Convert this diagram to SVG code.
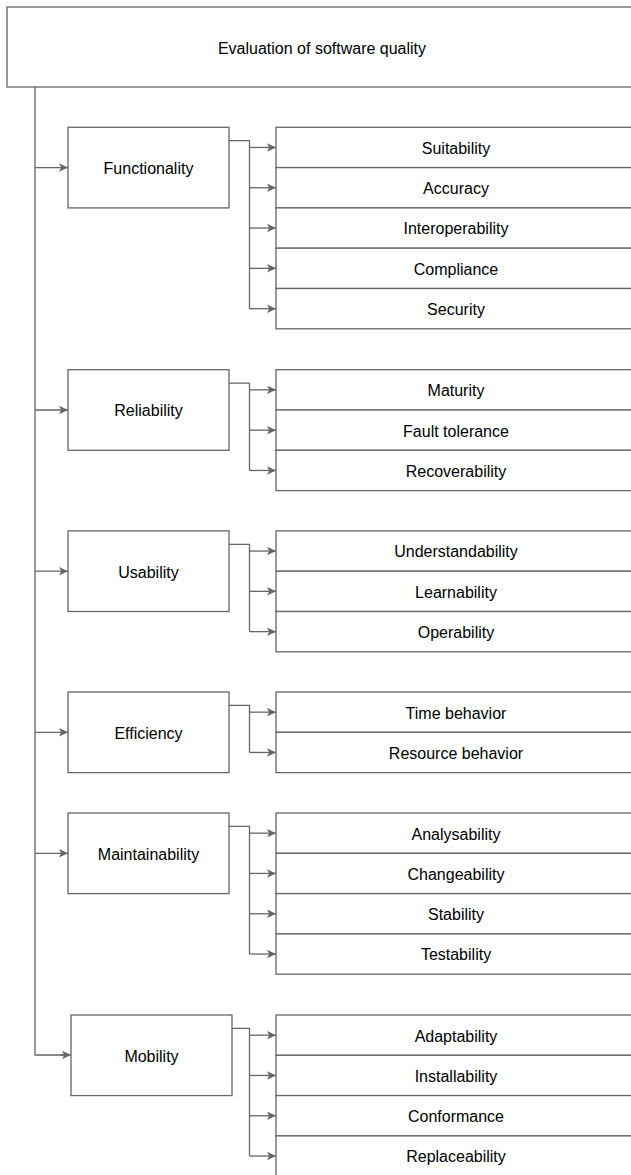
<svg xmlns="http://www.w3.org/2000/svg" width="631" height="1175" viewBox="0 0 631 1175">
<style>
.box{fill:#fff;stroke:#666;stroke-width:1.3}
.t{font-family:"Liberation Sans",Arial,Helvetica,sans-serif;font-size:16px;fill:#000;text-anchor:middle}
.c{fill:none;stroke:#666;stroke-width:1.3}
.a{marker-end:url(#arr)}
</style>
<defs>
<marker id="arr" markerUnits="userSpaceOnUse" viewBox="0 0 9 8.5" markerWidth="9" markerHeight="8.5" refX="9" refY="4.25" orient="auto">
<path d="M0,0 L9,4.25 L0,8.5 L2.2,4.25 Z" fill="#666"/>
</marker>
</defs>
<rect width="631" height="1175" fill="#fff"/>
<g id="connectors">
<path class="c" d="M35,87 V1055 H66"/>
<path class="c a" d="M35,167.6 H68"/>
<path class="c a" d="M35,410 H68"/>
<path class="c a" d="M35,571.2 H68"/>
<path class="c a" d="M35,732.3 H68"/>
<path class="c a" d="M35,853.3 H68"/>
<path class="c a" d="M60,1055 H71"/>
<path class="c" d="M229,140.7 H249.5 V308.65"/>
<path class="c a" d="M249.5,147.45 H276"/>
<path class="c a" d="M249.5,187.75 H276"/>
<path class="c a" d="M249.5,228.05 H276"/>
<path class="c a" d="M249.5,268.35 H276"/>
<path class="c a" d="M249.5,308.65 H276"/>
<path class="c" d="M229,383.1 H249.5 V470.45"/>
<path class="c a" d="M249.5,389.85 H276"/>
<path class="c a" d="M249.5,430.15 H276"/>
<path class="c a" d="M249.5,470.45 H276"/>
<path class="c" d="M229,544.3 H249.5 V631.65"/>
<path class="c a" d="M249.5,551.05 H276"/>
<path class="c a" d="M249.5,591.35 H276"/>
<path class="c a" d="M249.5,631.65 H276"/>
<path class="c" d="M229,705.4 H249.5 V752.45"/>
<path class="c a" d="M249.5,712.15 H276"/>
<path class="c a" d="M249.5,752.45 H276"/>
<path class="c" d="M229,826.4 H249.5 V954.05"/>
<path class="c a" d="M249.5,833.15 H276"/>
<path class="c a" d="M249.5,873.45 H276"/>
<path class="c a" d="M249.5,913.75 H276"/>
<path class="c a" d="M249.5,954.05 H276"/>
<path class="c" d="M232,1028.4 H249.5 V1156.05"/>
<path class="c a" d="M249.5,1035.15 H276"/>
<path class="c a" d="M249.5,1075.45 H276"/>
<path class="c a" d="M249.5,1115.75 H276"/>
<path class="c a" d="M249.5,1156.05 H276"/>
</g>
<g id="root"><rect class="box" x="7" y="7" width="630" height="80"/><text class="t" x="322" y="53.5">Evaluation of software quality</text></g>
<g id="functionality"><rect class="box" x="68" y="127.3" width="161" height="80.6"/><text class="t" x="148.5" y="174">Functionality</text></g>
<g id="suitability"><rect class="box" x="276" y="127.3" width="362" height="40.3"/><text class="t" x="456" y="153.8">Suitability</text></g>
<g id="accuracy"><rect class="box" x="276" y="167.6" width="362" height="40.3"/><text class="t" x="456" y="194.1">Accuracy</text></g>
<g id="interoperability"><rect class="box" x="276" y="207.9" width="362" height="40.3"/><text class="t" x="456" y="234.4">Interoperability</text></g>
<g id="compliance"><rect class="box" x="276" y="248.2" width="362" height="40.3"/><text class="t" x="456" y="274.7">Compliance</text></g>
<g id="security"><rect class="box" x="276" y="288.5" width="362" height="40.3"/><text class="t" x="456" y="315">Security</text></g>
<g id="reliability"><rect class="box" x="68" y="369.7" width="161" height="80.6"/><text class="t" x="148.5" y="416.4">Reliability</text></g>
<g id="maturity"><rect class="box" x="276" y="369.7" width="362" height="40.3"/><text class="t" x="456" y="396.2">Maturity</text></g>
<g id="fault-tolerance"><rect class="box" x="276" y="410" width="362" height="40.3"/><text class="t" x="456" y="436.5">Fault tolerance</text></g>
<g id="recoverability"><rect class="box" x="276" y="450.3" width="362" height="40.3"/><text class="t" x="456" y="476.8">Recoverability</text></g>
<g id="usability"><rect class="box" x="68" y="530.9" width="161" height="80.6"/><text class="t" x="148.5" y="577.6">Usability</text></g>
<g id="understandability"><rect class="box" x="276" y="530.9" width="362" height="40.3"/><text class="t" x="456" y="557.4">Understandability</text></g>
<g id="learnability"><rect class="box" x="276" y="571.2" width="362" height="40.3"/><text class="t" x="456" y="597.7">Learnability</text></g>
<g id="operability"><rect class="box" x="276" y="611.5" width="362" height="40.3"/><text class="t" x="456" y="638">Operability</text></g>
<g id="efficiency"><rect class="box" x="68" y="692" width="161" height="80.6"/><text class="t" x="148.5" y="738.7">Efficiency</text></g>
<g id="time-behavior"><rect class="box" x="276" y="692" width="362" height="40.3"/><text class="t" x="456" y="718.5">Time behavior</text></g>
<g id="resource-behavior"><rect class="box" x="276" y="732.3" width="362" height="40.3"/><text class="t" x="456" y="758.8">Resource behavior</text></g>
<g id="maintainability"><rect class="box" x="68" y="813" width="161" height="80.6"/><text class="t" x="148.5" y="859.7">Maintainability</text></g>
<g id="analysability"><rect class="box" x="276" y="813" width="362" height="40.3"/><text class="t" x="456" y="839.5">Analysability</text></g>
<g id="changeability"><rect class="box" x="276" y="853.3" width="362" height="40.3"/><text class="t" x="456" y="879.8">Changeability</text></g>
<g id="stability"><rect class="box" x="276" y="893.6" width="362" height="40.3"/><text class="t" x="456" y="920.1">Stability</text></g>
<g id="testability"><rect class="box" x="276" y="933.9" width="362" height="40.3"/><text class="t" x="456" y="960.4">Testability</text></g>
<g id="mobility"><rect class="box" x="71" y="1015" width="161" height="80.6"/><text class="t" x="151.5" y="1061.7">Mobility</text></g>
<g id="adaptability"><rect class="box" x="276" y="1015" width="362" height="40.3"/><text class="t" x="456" y="1041.5">Adaptability</text></g>
<g id="installability"><rect class="box" x="276" y="1055.3" width="362" height="40.3"/><text class="t" x="456" y="1081.8">Installability</text></g>
<g id="conformance"><rect class="box" x="276" y="1095.6" width="362" height="40.3"/><text class="t" x="456" y="1122.1">Conformance</text></g>
<g id="replaceability"><rect class="box" x="276" y="1135.9" width="362" height="40.3"/><text class="t" x="456" y="1162.4">Replaceability</text></g>
</svg>
